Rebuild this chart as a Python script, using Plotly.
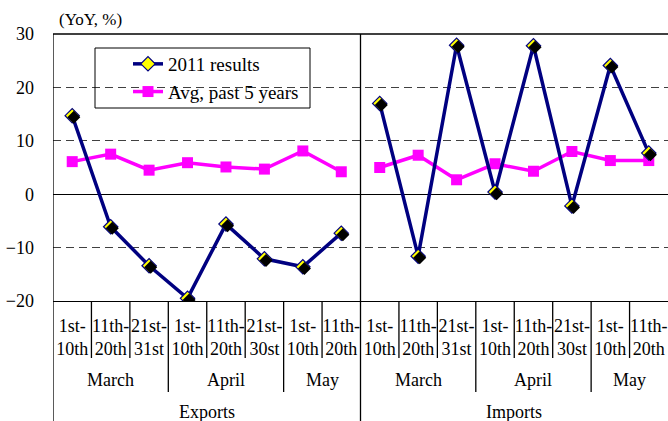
import plotly.graph_objects as go

# Ten-day periods within each month, for exports and imports
periods = ["1st-<br>10th", "11th-<br>20th", "21st-<br>31st",
           "1st-<br>10th", "11th-<br>20th", "21st-<br>30st",
           "1st-<br>10th", "11th-<br>20th"]
months = ["March", "April", "May"]
month_sizes = [3, 3, 2]
groups = ["Exports", "Imports"]

# Year-on-year change (%)
exports_2011 = [14.7, -6.1, -13.4, -19.5, -5.6, -12.1, -13.6, -7.3]
exports_avg5 = [6.1, 7.5, 4.5, 5.9, 5.1, 4.7, 8.1, 4.2]
imports_2011 = [17.0, -11.6, 27.9, 0.4, 27.8, -2.2, 24.1, 7.7]
imports_avg5 = [5.0, 7.3, 2.7, 5.7, 4.3, 8.0, 6.3, 6.3]

NAVY = "#000080"
MAGENTA = "#FF00FF"
SERIF = "Liberation Serif, Times New Roman, serif"

n = len(periods)
x_exp = list(range(n))
x_imp = list(range(n, 2 * n))
x_all = x_exp + x_imp

X_RANGE = [-0.5, 2 * n - 0.5]
Y_RANGE = [-20, 30]
# small pixel offset for the drop shadow under the diamond markers
PX_X = (X_RANGE[1] - X_RANGE[0]) / 615
PX_Y = (Y_RANGE[1] - Y_RANGE[0]) / 267
SHADOW = 1.6

fig = go.Figure()

# drop shadows for the 2011 markers, drawn on offset overlay axes
for xs, ys in [(x_exp, exports_2011), (x_imp, imports_2011)]:
    fig.add_trace(go.Scatter(
        x=xs, y=ys, mode="markers", xaxis="x2", yaxis="y2",
        marker=dict(symbol="diamond", size=10, color="black"),
        showlegend=False, hoverinfo="skip"))

for i, (xs, ys) in enumerate([(x_exp, exports_avg5), (x_imp, imports_avg5)]):
    fig.add_trace(go.Scatter(
        x=xs, y=ys, mode="lines+markers", name="Avg, past 5 years",
        legendgroup="avg", showlegend=(i == 0), legendrank=2,
        line=dict(color=MAGENTA, width=3.5),
        marker=dict(symbol="square", size=11, color=MAGENTA)))

for i, (xs, ys) in enumerate([(x_exp, exports_2011), (x_imp, imports_2011)]):
    fig.add_trace(go.Scatter(
        x=xs, y=ys, mode="lines+markers", name="2011 results",
        legendgroup="res", showlegend=(i == 0), legendrank=1,
        line=dict(color=NAVY, width=3.5),
        marker=dict(symbol="diamond", size=11, color="#FFFF00",
                    line=dict(color=NAVY, width=1.2))))

shapes = []
# frame: top edge (bottom edge is the x axis line)
shapes.append(dict(type="line", xref="paper", yref="paper", x0=0, x1=1, y0=1, y1=1,
                   line=dict(color="black", width=1.3)))


def paper_y(px_below):
    return -px_below / 267


# vertical separators under the category axis
bounds = []
start = 0
for g in range(len(groups)):
    for m, size in enumerate(month_sizes):
        for k in range(1, size):
            bounds.append((start + k - 0.5, "period"))
        start += size
        if m < len(month_sizes) - 1:
            bounds.append((start - 0.5, "month"))
    if g < len(groups) - 1:
        bounds.append((start - 0.5, "group"))
for xb, kind in bounds:
    if kind == "period":
        y0, y1 = paper_y(57), 0
    elif kind == "month":
        y0, y1 = paper_y(91), 0
    else:
        y0, y1 = paper_y(125), 1
    shapes.append(dict(type="line", xref="x", yref="paper", x0=xb, x1=xb, y0=y0, y1=y1,
                       line=dict(color="black", width=1.3)))
# left axis continues down through the labels
shapes.append(dict(type="line", xref="x", yref="paper", x0=X_RANGE[0], x1=X_RANGE[0],
                   y0=paper_y(125), y1=1, line=dict(color="black", width=1.3)))

# legend frame
shapes.append(dict(type="rect", xref="paper", yref="paper",
                   x0=(95 - 53) / 615, x1=(310 - 53) / 615,
                   y0=(301 - 108) / 267, y1=(301 - 48) / 267,
                   line=dict(color="black", width=1), fillcolor="rgba(0,0,0,0)"))

annotations = []
start = 0
for g, gname in enumerate(groups):
    gstart = start
    for m, size in zip(months, month_sizes):
        annotations.append(dict(x=start + (size - 1) / 2, y=paper_y(79), xref="x", yref="paper",
                                text=m, showarrow=False, font=dict(family=SERIF, size=18, color="black"),
                                yanchor="middle"))
        start += size
    annotations.append(dict(x=(gstart + start - 1) / 2, y=paper_y(111), xref="x", yref="paper",
                            text=gname, showarrow=False, font=dict(family=SERIF, size=18, color="black"),
                            yanchor="middle"))

annotations.append(dict(x=(57 - 53) / 615, y=(301 - 19) / 267, xref="paper", yref="paper",
                        xanchor="left", yanchor="middle", text="(YoY, %)", showarrow=False,
                        font=dict(family=SERIF, size=17, color="black")))

# chart heading, sitting above the visible area
annotations.append(dict(x=(60 - 53) / 615, y=(301 - 2.5) / 267, xref="paper", yref="paper",
                        xanchor="left", yanchor="bottom", showarrow=False,
                        text="Changes in ten-day trade since March: imports, especially",
                        font=dict(family="Liberation Sans, Arial, sans-serif", size=22, color="black")))

fig.update_layout(
    width=668, height=421,
    margin=dict(l=53, r=0, t=34, b=120),
    paper_bgcolor="white", plot_bgcolor="white",
    showlegend=True,
    legend=dict(x=(128 - 53) / 615, y=(301 - 45) / 267, xanchor="left", yanchor="top",
                bgcolor="rgba(0,0,0,0)", borderwidth=0, tracegroupgap=0,
                font=dict(family=SERIF, size=19, color="black"), itemwidth=30),
    xaxis=dict(range=X_RANGE, tickmode="array", tickvals=x_all, ticktext=periods * 2,
               tickangle=0, showgrid=False, zeroline=False, showline=True, linecolor="black",
               linewidth=1.3, ticks="", ticklabelstandoff=8,
               tickfont=dict(family=SERIF, size=18, color="black"), fixedrange=True),
    yaxis=dict(range=Y_RANGE, dtick=10, tick0=0, showgrid=True, gridcolor="#404040",
               griddash="8px,5px", gridwidth=1, zeroline=True, zerolinecolor="black",
               zerolinewidth=1.3, showline=False, ticks="", ticklabelstandoff=18,
               tickfont=dict(family=SERIF, size=18, color="black"), fixedrange=True),
    xaxis2=dict(range=[X_RANGE[0] - SHADOW * PX_X, X_RANGE[1] - SHADOW * PX_X], overlaying="x",
                visible=False, fixedrange=True),
    yaxis2=dict(range=[Y_RANGE[0] + SHADOW * PX_Y, Y_RANGE[1] + SHADOW * PX_Y], overlaying="y",
                visible=False, fixedrange=True),
    shapes=shapes, annotations=annotations,
)

fig.write_html("out.html")
